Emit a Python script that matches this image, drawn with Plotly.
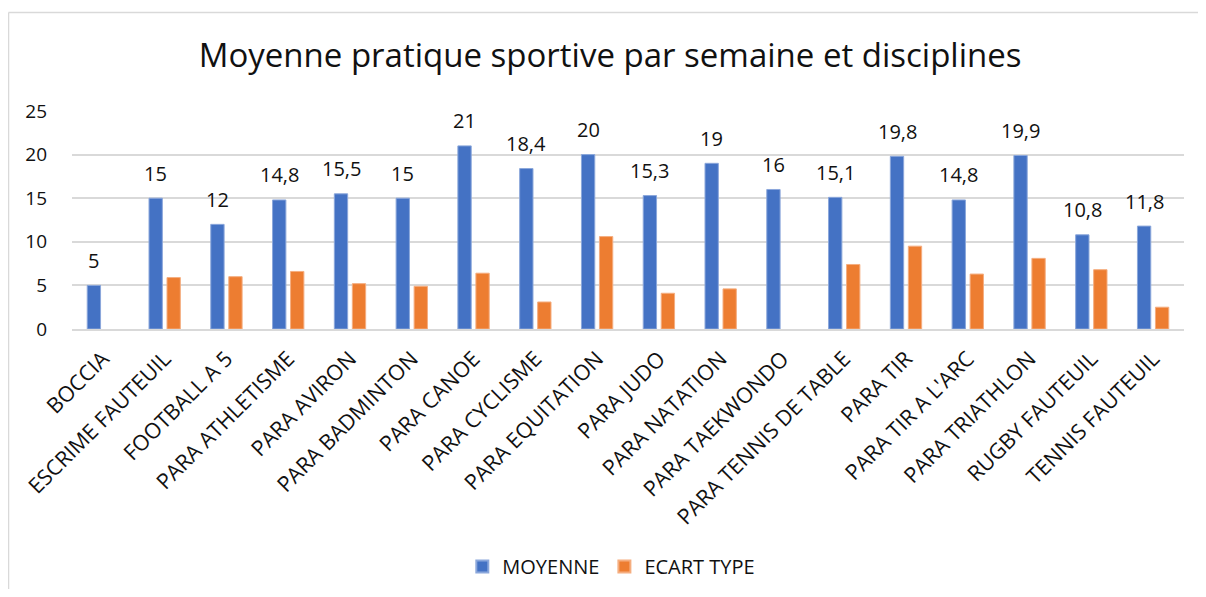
import plotly.graph_objects as go

categories = ["BOCCIA", "ESCRIME FAUTEUIL", "FOOTBALL A 5", "PARA ATHLETISME", "PARA AVIRON",
              "PARA BADMINTON", "PARA CANOE", "PARA CYCLISME", "PARA EQUITATION", "PARA JUDO",
              "PARA NATATION", "PARA TAEKWONDO", "PARA TENNIS DE TABLE", "PARA TIR",
              "PARA TIR A L'ARC", "PARA TRIATHLON", "RUGBY FAUTEUIL", "TENNIS FAUTEUIL"]
moyenne = [5, 15, 12, 14.8, 15.5, 15, 21, 18.4, 20, 15.3, 19, 16, 15.1, 19.8, 14.8, 19.9, 10.8, 11.8]
ecart_type = [None, 5.9, 6.0, 6.6, 5.2, 4.9, 6.4, 3.1, 10.6, 4.1, 4.6, None, 7.4, 9.5, 6.3, 8.1, 6.8, 2.5]
y_ticks = [0, 5, 10, 15, 20, 25]

FONT = "Open Sans"
TXT = "#111111"

fig = go.Figure()
fig.add_trace(go.Bar(name="MOYENNE", x=categories, y=moyenne, marker_color="#4472C4",
                     marker_line=dict(color="#8BA7DB", width=1)))
fig.add_trace(go.Bar(name="ECART TYPE", x=categories, y=ecart_type, marker_color="#ED7D31",
                     marker_line=dict(color="#F5AE80", width=1)))

def fmt(v):
    return f"{v:g}".replace(".", ",")

for i, (c, v) in enumerate(zip(categories, moyenne)):
    fig.add_annotation(x=i, y=v, text=fmt(v), showarrow=False, xshift=-9, yshift=25,
                       font=dict(family=FONT, size=20, color=TXT))

# chart border (left + top)
fig.add_shape(type="line", xref="paper", yref="paper", x0=-0.0571, x1=-0.0571, y0=1.452, y1=-1.3,
              line=dict(color="#D9D9D9", width=1.5))
fig.add_shape(type="line", xref="paper", yref="paper", x0=-0.0571, x1=1.03, y0=1.452, y1=1.452,
              line=dict(color="#D9D9D9", width=1.5))

fig.update_layout(
    width=1190, height=581,
    margin=dict(l=64, r=14, t=103, b=260, autoexpand=False),
    paper_bgcolor="white", plot_bgcolor="white",
    barmode="group", bargap=0.417, bargroupgap=0.26,
    title=dict(text="Moyenne pratique sportive par semaine et disciplines",
               x=0.506, xanchor="center", y=0.918, yanchor="middle",
               font=dict(family=FONT, size=33, color=TXT)),
    font=dict(family=FONT, color=TXT),
    legend=dict(orientation="h", x=0.485, xanchor="center", y=-1.089, yanchor="middle",
                font=dict(family=FONT, size=20, color=TXT), itemsizing="constant"),
    showlegend=True,
)
fig.update_yaxes(range=[0, 25], tickvals=y_ticks, showgrid=True, gridcolor="#D9D9D9", gridwidth=1.5,
                 zeroline=False, showline=False, ticks="", ticklabelstandoff=24, automargin=False,
                 tickfont=dict(family=FONT, size=19, color=TXT))
fig.update_xaxes(tickangle=-45, showline=True, linecolor="#D9D9D9", linewidth=1.5, ticks="",
                 ticklabelstandoff=7, automargin=False,
                 tickfont=dict(family=FONT, size=21.5, color=TXT))

fig.write_html("out.html")
